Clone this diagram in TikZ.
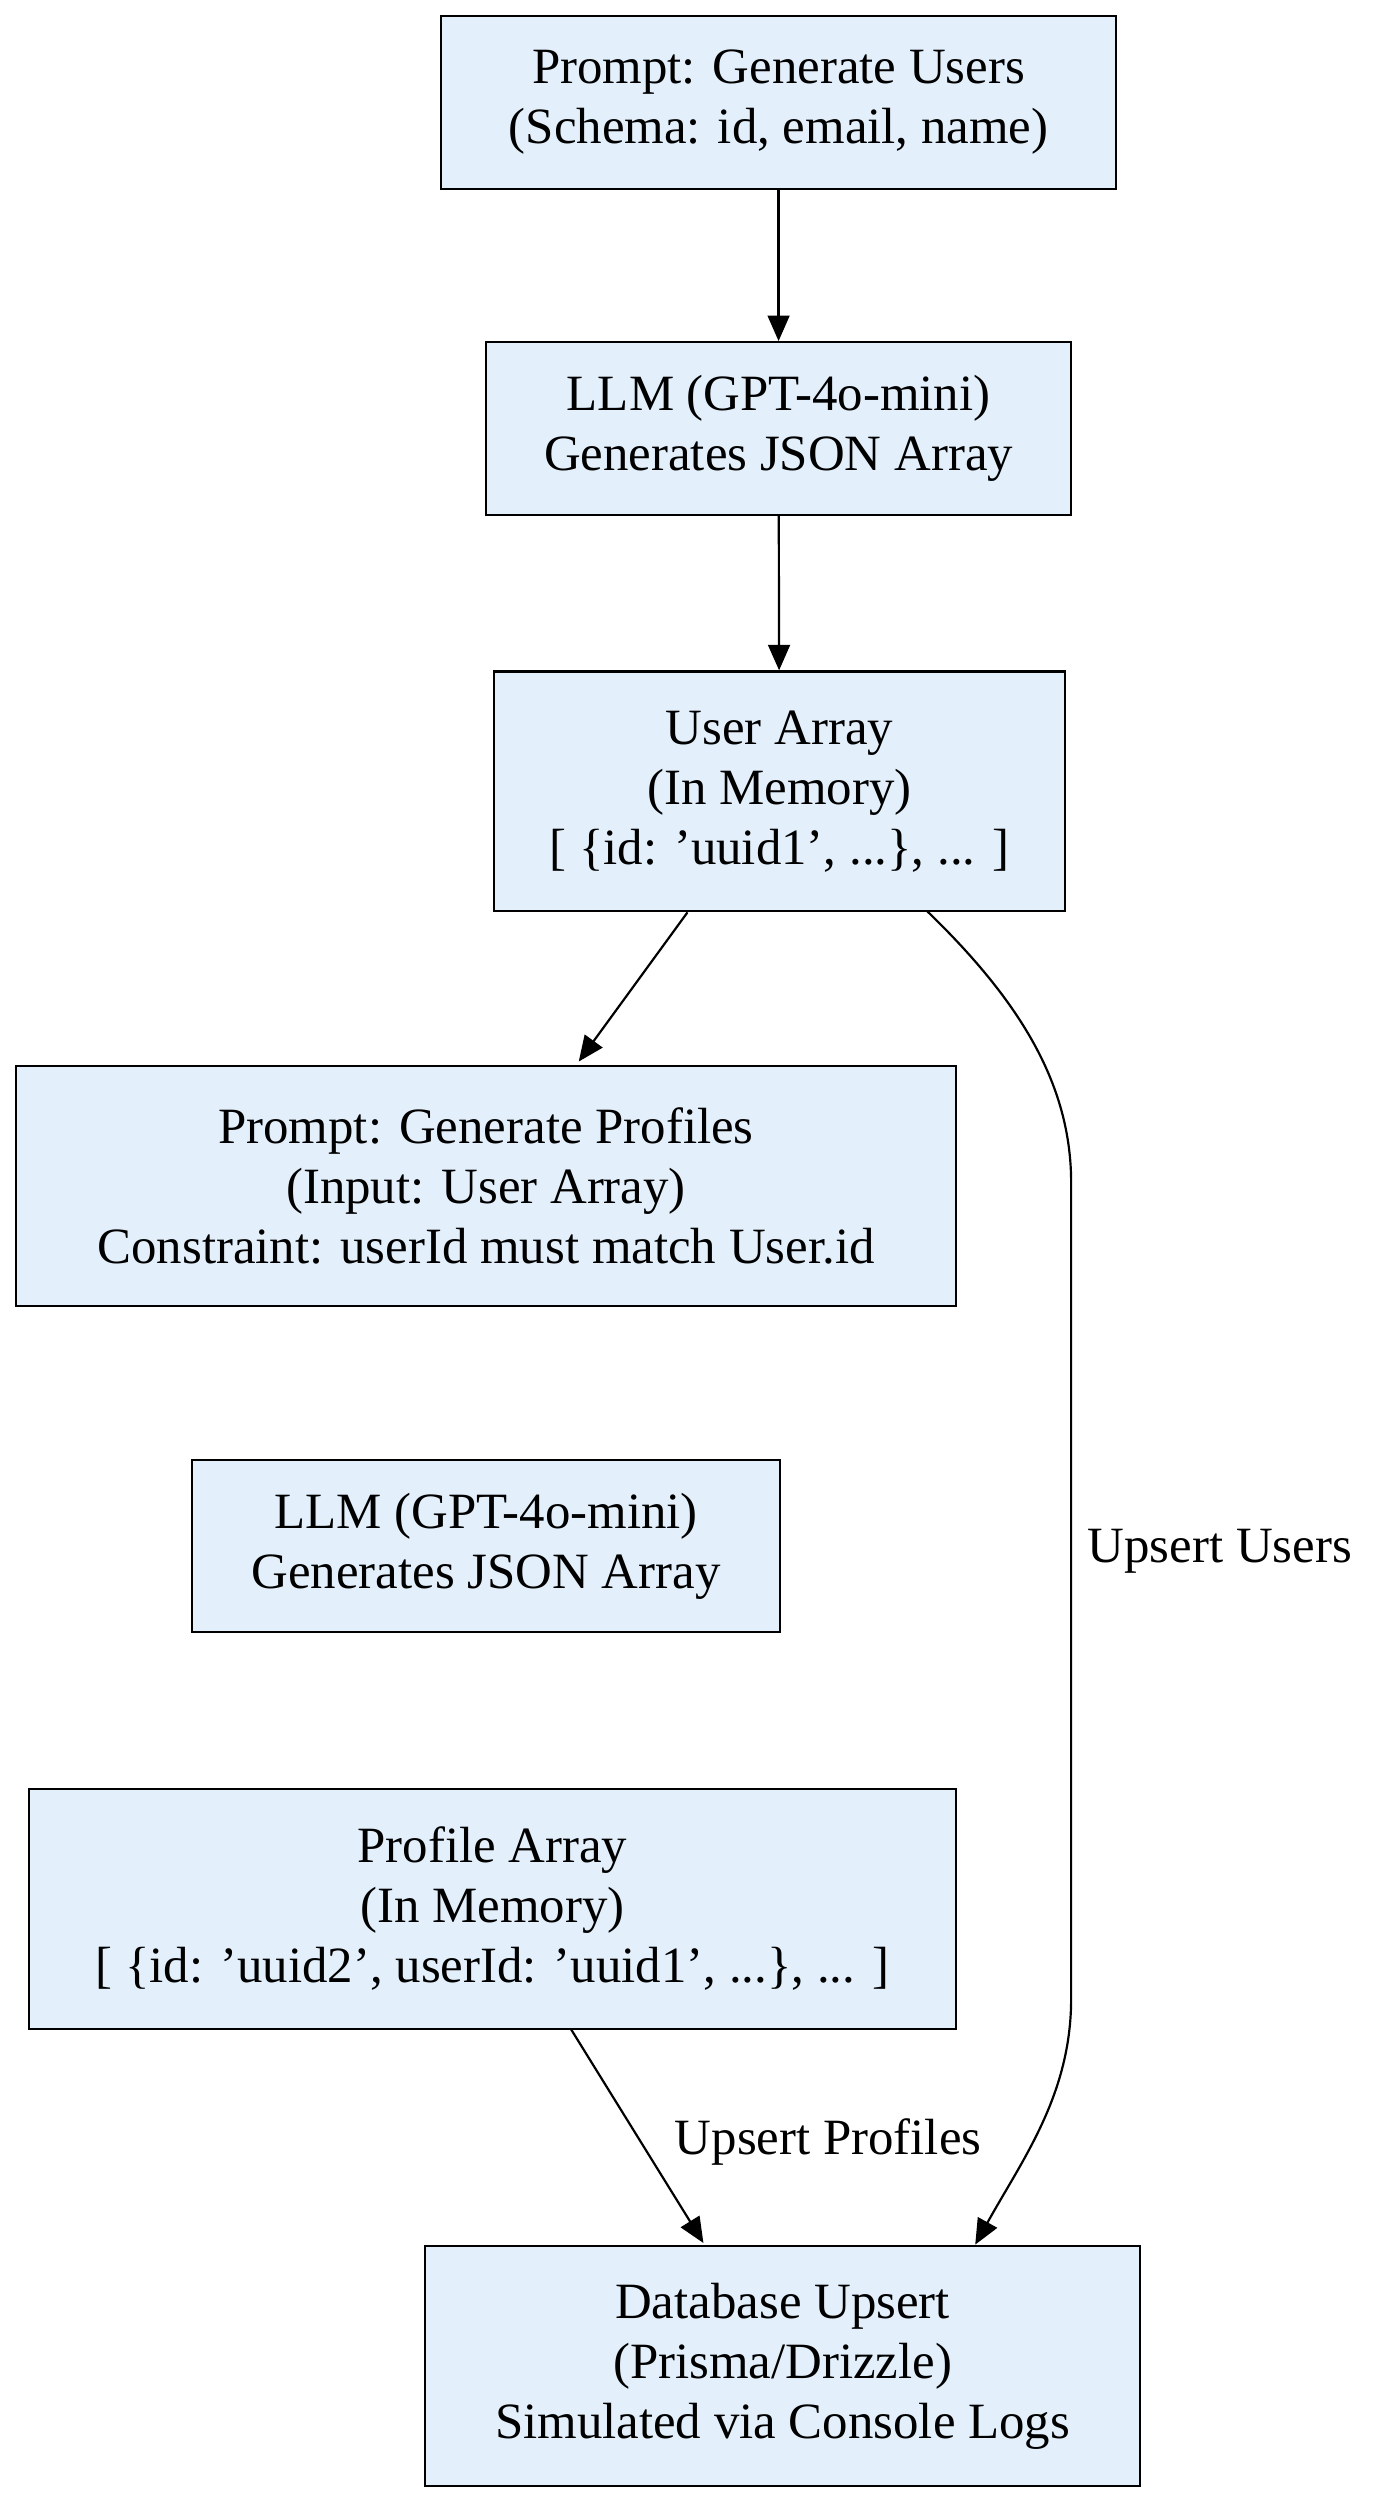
\documentclass[tikz,border=0pt]{standalone}
\usepackage{fontspec}
\setmainfont{Liberation Serif}
\usetikzlibrary{arrows.meta}
\definecolor{boxfill}{HTML}{E3F0FB}
\begin{document}
\begin{tikzpicture}[x=0.44pt,y=-0.44pt,
  box/.style 2 args={draw=black,line width=0.6pt,fill=boxfill,align=center,
    minimum width=#1*0.44pt,minimum height=#2*0.44pt,inner sep=0pt,
    font=\fontsize{14}{16.5}\selectfont},
  arr/.style={line width=0.6pt,-{Triangle[length=7pt,width=6pt]}},
  lab/.style={font=\fontsize{14}{16.5}\selectfont}]
\useasboundingbox (0,0) rectangle (862,1560);
\node[box={422}{108}] (n1) at (487,64) {Prompt: Generate Users\\(Schema: id, email, name)};
\node[box={366}{108}] (n2) at (487,268) {LLM (GPT-4o-mini)\\Generates JSON Array};
\node[box={357}{150}] (n3) at (487.5,495) {User Array\\(In Memory)\\{}[ \{id: 'uuid1', ...\}, ... ]};
\node[box={588}{150}] (n4) at (304,742) {Prompt: Generate Profiles\\(Input: User Array)\\Constraint: userId must match User.id};
\node[box={368}{108}] (n5) at (304,967) {LLM (GPT-4o-mini)\\Generates JSON Array};
\node[box={580}{150}] (n6) at (308,1194) {Profile Array\\(In Memory)\\{}[ \{id: 'uuid2', userId: 'uuid1', ...\}, ... ]};
\node[box={447}{150}] (n7) at (489.5,1480) {Database Upsert\\(Prisma/Drizzle)\\Simulated via Console Logs};
\draw[arr] (n1) -- (n2);
\draw[arr] (n2) -- (n3);
\draw[arr] (n3.south west -| 430,0) -- (362,664);
\coordinate (a) at (580,570);
\coordinate (e) at (610,1404);
\draw[arr] (a) .. controls (640,628) and (670,680) .. (670,740) -- (670,1250) .. controls (670,1310) and (640,1350) .. (e);
\node[lab] (l1) at (763,970) {Upsert Users};
\draw[arr] (357,1269) -- (440,1403);
\node[lab] (l2) at (518,1340) {Upsert Profiles};
\end{tikzpicture}
\end{document}
